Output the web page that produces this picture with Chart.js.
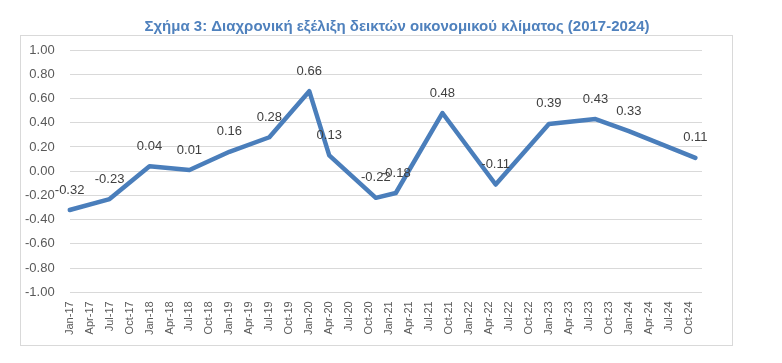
<!DOCTYPE html>
<html><head><meta charset="utf-8">
<script src="https://cdn.jsdelivr.net/npm/chart.js@4/dist/chart.umd.min.js"></script>
<style>html,body{margin:0;padding:0;background:#fff}#wrap{width:782px;height:363px;position:relative}</style>
</head><body><div id="wrap"><canvas id="c" width="782" height="363"></canvas></div>
<script>
const chartTitle = 'Σχήμα 3: Διαχρονική εξέλιξη δεικτών οικονομικού κλίματος (2017-2024)';
const monthNames = ['Jan','Feb','Mar','Apr','May','Jun','Jul','Aug','Sep','Oct','Nov','Dec'];
const yearSuffixes = ['17','18','19','20','21','22','23','24'];
const quarterMonths = ['Jan','Apr','Jul','Oct'];
const pointMonths = ['Jan-17','Jul-17','Jan-18','Jul-18','Jan-19','Jul-19','Jan-20','Apr-20','Nov-20','Feb-21','Sep-21','May-22','Jan-23','Aug-23','Jan-24','Nov-24'];
const climateValues = [-0.32,-0.23,0.04,0.01,0.16,0.28,0.66,0.13,-0.22,-0.18,0.48,-0.11,0.39,0.43,0.33,0.11];
const yMin = -1, yMax = 1, yStep = 0.2;

const monthLabels = [];
yearSuffixes.forEach(y => monthNames.forEach(m => monthLabels.push(m + '-' + y)));

const FONT = '"Liberation Sans", Arial, sans-serif';

const framePlugin = {
  id: 'frame',
  beforeDraw(chart) {
    const ctx = chart.ctx;
    ctx.save();
    ctx.fillStyle = '#ffffff';
    ctx.fillRect(0, 0, chart.width, chart.height);
    ctx.strokeStyle = '#d9d9d9';
    ctx.lineWidth = 1;
    ctx.strokeRect(20.5, 35.5, 712, 310);
    ctx.font = 'bold 15px ' + FONT;
    ctx.fillStyle = '#4F81BD';
    ctx.textAlign = 'center';
    ctx.textBaseline = 'middle';
    ctx.fillText(chartTitle, 397, 27);
    ctx.restore();
  }
};

const valueLabels = {
  id: 'valueLabels',
  afterDatasetsDraw(chart) {
    const ctx = chart.ctx;
    const meta = chart.getDatasetMeta(0);
    const ds = chart.data.datasets[0].data;
    ctx.save();
    ctx.font = '13px ' + FONT;
    ctx.fillStyle = '#404040';
    ctx.textAlign = 'center';
    ctx.textBaseline = 'middle';
    meta.data.forEach((pt, i) => {
      ctx.fillText(ds[i].y.toFixed(2), pt.x, pt.y - 20);
    });
    ctx.restore();
  }
};

new Chart(document.getElementById('c'), {
  type: 'line',
  data: {
    labels: monthLabels,
    datasets: [{
      data: pointMonths.map((m, i) => ({ x: m, y: climateValues[i] })),
      borderColor: '#4A7EBB',
      borderWidth: 4.5,
      pointRadius: 0,
      tension: 0,
      fill: false,
      borderJoinStyle: 'round',
      borderCapStyle: 'round'
    }]
  },
  options: {
    responsive: false,
    devicePixelRatio: 1,
    animation: false,
    layout: { padding: { left: 10, right: 80, top: 50, bottom: 19 } },
    plugins: {
      legend: { display: false },
      tooltip: { enabled: false },
      title: { display: false }
    },
    scales: {
      x: {
        type: 'category',
        offset: false,
        grid: { display: false, drawTicks: false },
        border: { display: false },
        ticks: {
          autoSkip: false,
          minRotation: 90,
          maxRotation: 90,
          padding: 9,
          color: '#595959',
          font: { family: FONT, size: 11 },
          callback: function(v, i) {
            const lab = monthLabels[i];
            return quarterMonths.includes(lab.slice(0, 3)) ? lab : null;
          }
        }
      },
      y: {
        min: yMin, max: yMax,
        grid: { color: '#d9d9d9', lineWidth: 1, drawTicks: false },
        border: { display: false },
        ticks: {
          stepSize: yStep,
          padding: 15,
          color: '#595959',
          font: { family: FONT, size: 13 },
          callback: v => (Math.round(v * 100) / 100).toFixed(2)
        }
      }
    }
  },
  plugins: [framePlugin, valueLabels]
});
</script></body></html>
